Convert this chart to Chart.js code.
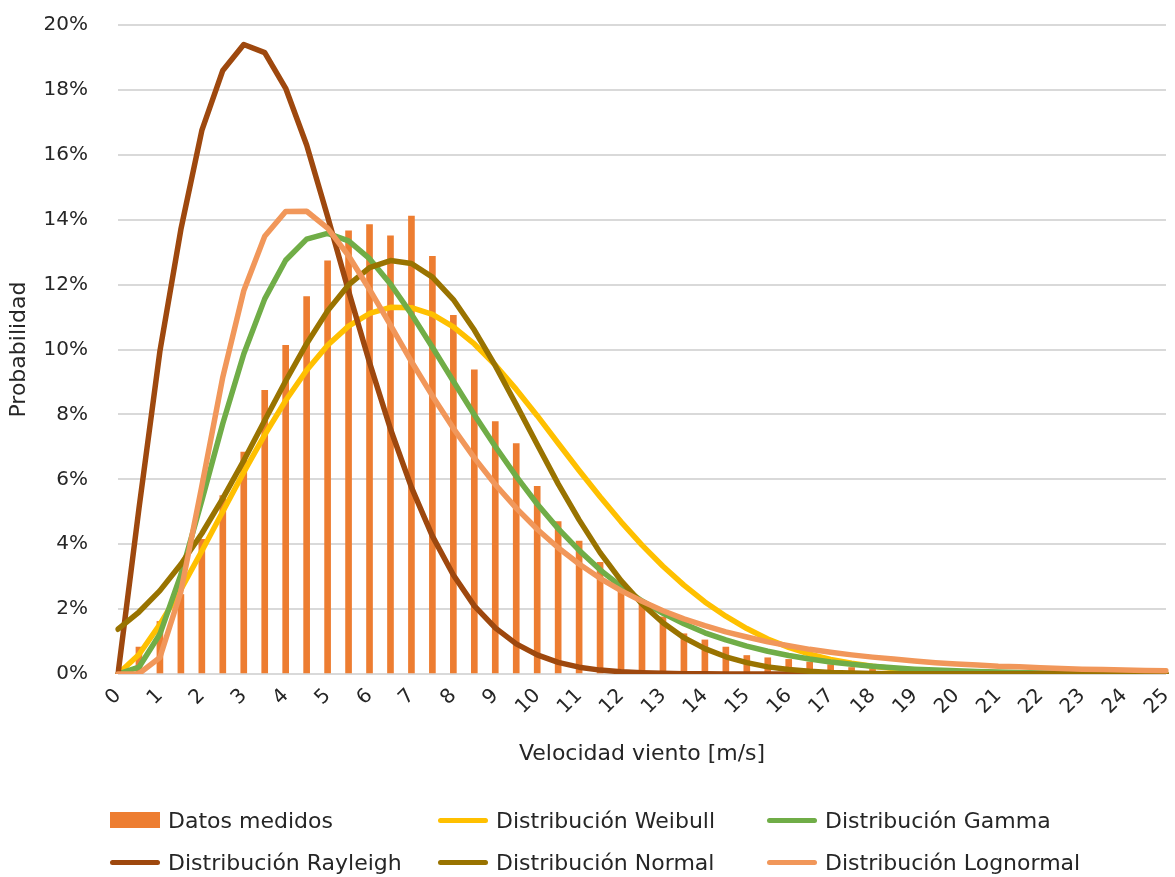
<!DOCTYPE html>
<html>
<head>
<meta charset="utf-8">
<script src="https://cdn.jsdelivr.net/npm/chart.js@4.4.1/dist/chart.umd.min.js"></script>
<style>
  body { margin: 0; background: #fff; }
  #wrap { position: relative; width: 1175px; height: 877px; }
  #legend { position: absolute; left: 0; top: 0; width: 1175px; height: 877px; pointer-events: none; }
  .item { position: absolute; display: flex; align-items: center; font-family: "DejaVu Sans", sans-serif; font-size: 22px; color: #262626; white-space: nowrap; }
  .sw { display: inline-block; margin-right: 8px; }
</style>
</head>
<body>
<div id="wrap">
  <canvas id="myChart" width="1175" height="877"></canvas>
  <div id="legend"></div>
</div>
<script>
// wind speed categories (m/s)
var velocidad = ['0','0.5','1','1.5','2','2.5','3','3.5','4','4.5','5','5.5','6','6.5','7','7.5','8','8.5','9','9.5',
  '10','10.5','11','11.5','12','12.5','13','13.5','14','14.5','15','15.5','16','16.5','17','17.5','18','18.5','19','19.5',
  '20','20.5','21','21.5','22','22.5','23','23.5','24','24.5','25'];

// probabilities in %
var datosMedidos = [0, 0.83, 1.62, 2.45, 4.15, 5.5, 6.84, 8.74, 10.13, 11.63, 12.73, 13.66, 13.85, 13.5, 14.11, 12.87, 11.05, 9.37, 7.78, 7.1,
  5.78, 4.7, 4.1, 3.44, 2.65, 2.17, 1.76, 1.24, 1.05, 0.83, 0.57, 0.5, 0.45, 0.37, 0.29, 0.2, 0.16, 0.1, 0.08, 0.06,
  0.05, 0.04, 0.03, 0.03, 0.02, 0.02, 0.01, 0.01, 0.01, 0, 0];

var weibull = [0, 0.6, 1.53, 2.61, 3.79, 5.01, 6.22, 7.37, 8.43, 9.36, 10.13, 10.72, 11.11, 11.3, 11.29, 11.08, 10.7, 10.17, 9.52, 8.77,
  7.96, 7.11, 6.27, 5.46, 4.69, 3.97, 3.32, 2.74, 2.22, 1.78, 1.4, 1.08, 0.82, 0.61, 0.45, 0.33, 0.24, 0.17, 0.12, 0.08,
  0.06, 0.04, 0.03, 0.02, 0.01, 0.01, 0, 0, 0, 0, 0];

var gamma = [0, 0.21, 1.23, 3.06, 5.35, 7.72, 9.86, 11.56, 12.75, 13.4, 13.58, 13.35, 12.8, 12.02, 11.09, 10.07, 9.02, 7.99, 7.01, 6.09,
  5.24, 4.48, 3.81, 3.21, 2.7, 2.25, 1.87, 1.55, 1.27, 1.05, 0.86, 0.7, 0.57, 0.46, 0.37, 0.3, 0.24, 0.19, 0.15, 0.12,
  0.1, 0.08, 0.06, 0.05, 0.04, 0.03, 0.02, 0.02, 0.015, 0.01, 0.01];

var rayleigh = [0, 5.1, 9.95, 13.7, 16.75, 18.6, 19.4, 19.15, 18.05, 16.3, 14.1, 11.8, 9.6, 7.55, 5.75, 4.25, 3.05, 2.1, 1.42, 0.93,
  0.59, 0.36, 0.21, 0.12, 0.07, 0.04, 0.02, 0.01, 0.01, 0, 0, 0, 0, 0, 0, 0, 0, 0, 0, 0,
  0, 0, 0, 0, 0, 0, 0, 0, 0, 0, 0];

var normal = [1.38, 1.91, 2.57, 3.38, 4.33, 5.41, 6.58, 7.81, 9.03, 10.18, 11.19, 11.99, 12.52, 12.74, 12.65, 12.23, 11.54, 10.6, 9.5, 8.3,
  7.07, 5.86, 4.75, 3.74, 2.88, 2.16, 1.58, 1.12, 0.78, 0.53, 0.35, 0.22, 0.14, 0.085, 0.05, 0.03, 0.015, 0.008, 0.004, 0,
  0, 0, 0, 0, 0, 0, 0, 0, 0, 0, 0];

var lognormal = [0, 0.01, 0.51, 2.54, 5.79, 9.15, 11.81, 13.49, 14.25, 14.26, 13.74, 12.89, 11.85, 10.75, 9.63, 8.57, 7.57, 6.66, 5.84, 5.11,
  4.46, 3.89, 3.39, 2.95, 2.57, 2.24, 1.95, 1.7, 1.49, 1.3, 1.14, 0.99, 0.87, 0.76, 0.67, 0.59, 0.52, 0.46, 0.4, 0.35,
  0.31, 0.28, 0.24, 0.22, 0.19, 0.17, 0.15, 0.14, 0.12, 0.11, 0.1];

var nombres = ['Datos medidos', 'Distribución Weibull', 'Distribución Gamma', 'Distribución Rayleigh', 'Distribución Normal', 'Distribución Lognormal'];
var colores = ['#ED7D31', '#FFC000', '#70AD47', '#9E480E', '#997300', '#F1975A'];

var textColor = '#262626';
var fontFam = '"DejaVu Sans", sans-serif';

function lineSet(i, data, ord) {
  return {
    type: 'line',
    label: nombres[i],
    data: data,
    borderColor: colores[i],
    backgroundColor: colores[i],
    borderWidth: 5.5,
    pointRadius: 0,
    tension: 0,
    fill: false,
    borderJoinStyle: 'round',
    borderCapStyle: 'round',
    order: ord
  };
}

var ctx = document.getElementById('myChart').getContext('2d');
var chart = new Chart(ctx, {
  type: 'bar',
  data: {
    labels: velocidad,
    datasets: [
      {
        type: 'bar',
        label: nombres[0],
        data: datosMedidos,
        backgroundColor: colores[0],
        borderWidth: 0,
        barThickness: 6,
        order: 6
      },
      lineSet(1, weibull, 5),
      lineSet(2, gamma, 4),
      lineSet(3, rayleigh, 3),
      lineSet(4, normal, 2),
      lineSet(5, lognormal, 1)
    ]
  },
  options: {
    responsive: false,
    animation: false,
    layout: { padding: { left: 0, right: 9, top: 25, bottom: 105 } },
    plugins: {
      legend: { display: false },
      tooltip: { enabled: false }
    },
    scales: {
      x: {
        offset: false,
        grid: { display: false, drawTicks: false },
        border: { display: false },
        afterFit: function (s) {
          s.height = 98;
          s.paddingLeft = 0;
          s.paddingRight = 0;
        },
        ticks: {
          autoSkip: false,
          minRotation: 45,
          maxRotation: 45,
          padding: 10,
          color: textColor,
          font: { family: fontFam, size: 20 },
          callback: function (val, i) {
            return i % 2 === 0 ? velocidad[i] : '';
          }
        },
        title: {
          display: true,
          text: 'Velocidad viento [m/s]',
          color: textColor,
          font: { family: fontFam, size: 22 },
          padding: { top: 0, bottom: 5 }
        }
      },
      y: {
        min: 0,
        max: 20,
        afterFit: function (s) {
          s.width = 118;
          s.paddingTop = 0;
          s.paddingBottom = 0;
        },
        grid: { color: '#d9d9d9', lineWidth: 2, drawTicks: false },
        border: { display: false },
        ticks: {
          stepSize: 2,
          padding: 30,
          color: textColor,
          font: { family: fontFam, size: 20 },
          callback: function (v) { return v + '%'; }
        },
        title: {
          display: true,
          text: 'Probabilidad',
          color: textColor,
          font: { family: fontFam, size: 22 },
          padding: { top: 6, bottom: 0 }
        }
      }
    }
  }
});

// legend in two rows, three columns
var legendCols = [110, 438, 767];
var legendRows = [820, 862];
var legend = document.getElementById('legend');
nombres.forEach(function (n, i) {
  var item = document.createElement('div');
  item.className = 'item';
  item.style.left = legendCols[i % 3] + 'px';
  item.style.top = (legendRows[Math.floor(i / 3)] - 14) + 'px';
  item.style.height = '28px';
  var sw = document.createElement('span');
  sw.className = 'sw';
  if (i === 0) {
    sw.style.width = '50px';
    sw.style.height = '16px';
    sw.style.background = colores[i];
  } else {
    sw.style.width = '50px';
    sw.style.height = '5px';
    sw.style.borderRadius = '3px';
    sw.style.background = colores[i];
  }
  var tx = document.createElement('span');
  tx.textContent = n;
  item.appendChild(sw);
  item.appendChild(tx);
  legend.appendChild(item);
});
</script>
</body>
</html>
